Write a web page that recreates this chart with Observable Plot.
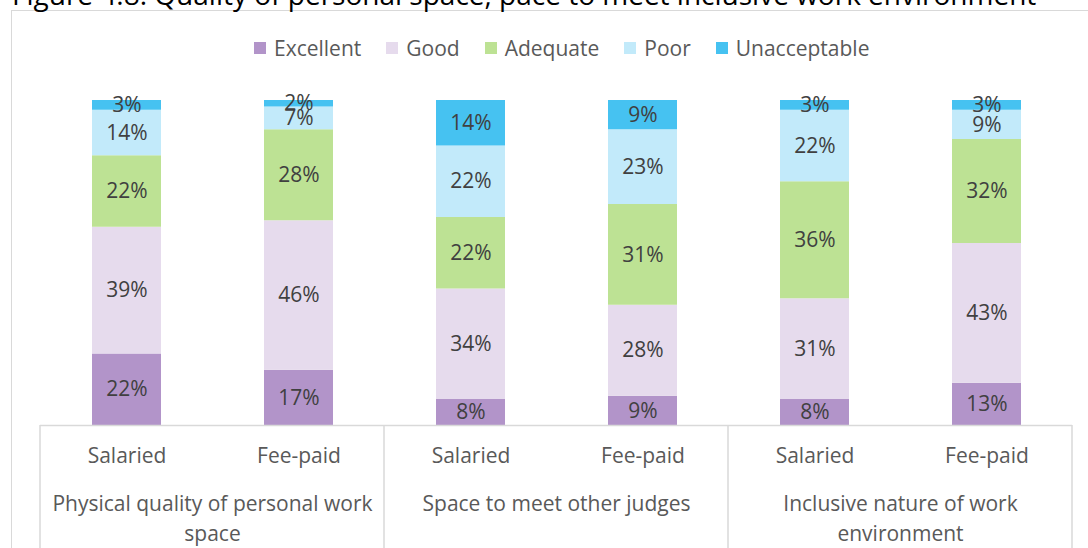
<!DOCTYPE html>
<html>
<head>
<meta charset="utf-8">
<script src="https://cdn.jsdelivr.net/npm/d3@7"></script>
<script src="https://cdn.jsdelivr.net/npm/@observablehq/plot@0.6"></script>
<style>
  html, body { margin: 0; padding: 0; background: #fff; overflow: hidden; width: 1088px; height: 548px; }
  #wrap { position: relative; width: 1088px; height: 548px; overflow: hidden; font-family: "Open Sans", sans-serif; }
  #border { position: absolute; left: 11px; top: 10px; width: 2000px; height: 2000px; border-left: 1.5px solid #d9d9d9; border-top: 1.5px solid #d9d9d9; }
  #title { position: absolute; left: 12px; top: -20px; font-size: 28px; color: #000; white-space: nowrap; line-height: 1; }
  #chart { position: absolute; left: 0; top: 0; }
  #legend { position: absolute; left: 254px; top: 36px; display: flex; align-items: center; font-size: 21px; color: #595959; line-height: 24px; }
  #legend .item { display: flex; align-items: center; margin-right: 25px; }
  #legend .sw { width: 12px; height: 12px; margin-right: 8px; }
</style>
</head>
<body>
<div id="wrap">
  <div id="border"></div>
  <div id="title"></div>
  <div id="chart"></div>
  <div id="legend"></div>
</div>
<script>
const titleText = "Figure 4.8: Quality of personal space, pace to meet inclusive work environment";
const groups = ["Physical quality of personal work space", "Space to meet other judges", "Inclusive nature of work environment"];
const groupLabels = ["Physical quality of personal work\nspace", "Space to meet other judges", "Inclusive nature of work\nenvironment"];
const types = ["Salaried", "Fee-paid"];
const levels = ["Excellent", "Good", "Adequate", "Poor", "Unacceptable"];
const colors = ["#b294c9", "#e6dbed", "#bde294", "#c2eafa", "#46c2f1"];
// values per bar: [PQ Salaried, PQ Fee-paid, Space Salaried, Space Fee-paid, Incl Salaried, Incl Fee-paid]
const excellent    = [22, 17, 8, 9, 8, 13];
const good         = [39, 46, 34, 28, 31, 43];
const adequate     = [22, 28, 22, 31, 36, 32];
const poor         = [14, 7, 22, 23, 22, 9];
const unacceptable = [3, 2, 14, 9, 3, 3];
const series = [excellent, good, adequate, poor, unacceptable];

const data = [];
series.forEach((vals, li) => {
  vals.forEach((v, i) => {
    data.push({group: groups[Math.floor(i / 2)], type: types[i % 2], level: levels[li], value: v});
  });
});

document.getElementById("title").textContent = titleText;

const plot = Plot.plot({
  width: 1088,
  height: 548,
  marginTop: 100,
  marginBottom: 123,
  marginLeft: 40,
  marginRight: 16,
  style: {fontFamily: "'Open Sans', sans-serif", fontSize: "21px", color: "#595959", background: "transparent"},
  fx: {domain: groups, padding: 0, label: null},
  x: {domain: types, paddingInner: 0.6, paddingOuter: 0.3, label: null},
  y: {domain: [0, 100], axis: null},
  color: {domain: levels, range: colors},
  marks: [
    Plot.barY(data, Plot.stackY({fx: "group", x: "type", y: "value", z: "level", fill: "level"})),
    Plot.text(data, Plot.stackY({fx: "group", x: "type", y: "value", z: "level", text: d => `${d.value}%`, fill: "#404040", fontSize: 21})),
    Plot.ruleY([0], {stroke: "#d9d9d9", strokeWidth: 1.5}),
    Plot.axisX({anchor: "bottom", tickSize: 0, tickPadding: 23, fontSize: 21, fill: "#595959", label: null}),
    Plot.axisFx({anchor: "bottom", tickSize: 0, tickPadding: 65, fontSize: 21, lineHeight: 1.4, fill: "#595959", label: null,
      tickFormat: d => groupLabels[groups.indexOf(d)]})
  ]
});
document.getElementById("chart").appendChild(plot);

// group separator lines below the baseline, positioned from the fx scale
const fx = plot.scale("fx");
const yS = plot.scale("y");
const svg = d3.select(plot);
const y0 = yS.apply(0);
const xs = groups.map(g => fx.apply(g));
xs.push(fx.apply(groups[groups.length - 1]) + fx.bandwidth);
svg.append("g").selectAll("line").data(xs).join("line")
  .attr("x1", d => d).attr("x2", d => d)
  .attr("y1", y0).attr("y2", 548)
  .attr("stroke", "#d9d9d9").attr("stroke-width", 1.5);

// legend
const legend = d3.select("#legend");
levels.forEach((l, i) => {
  const it = legend.append("div").attr("class", "item");
  it.append("div").attr("class", "sw").style("background", colors[i]);
  it.append("span").text(l);
});
</script>
</body>
</html>
